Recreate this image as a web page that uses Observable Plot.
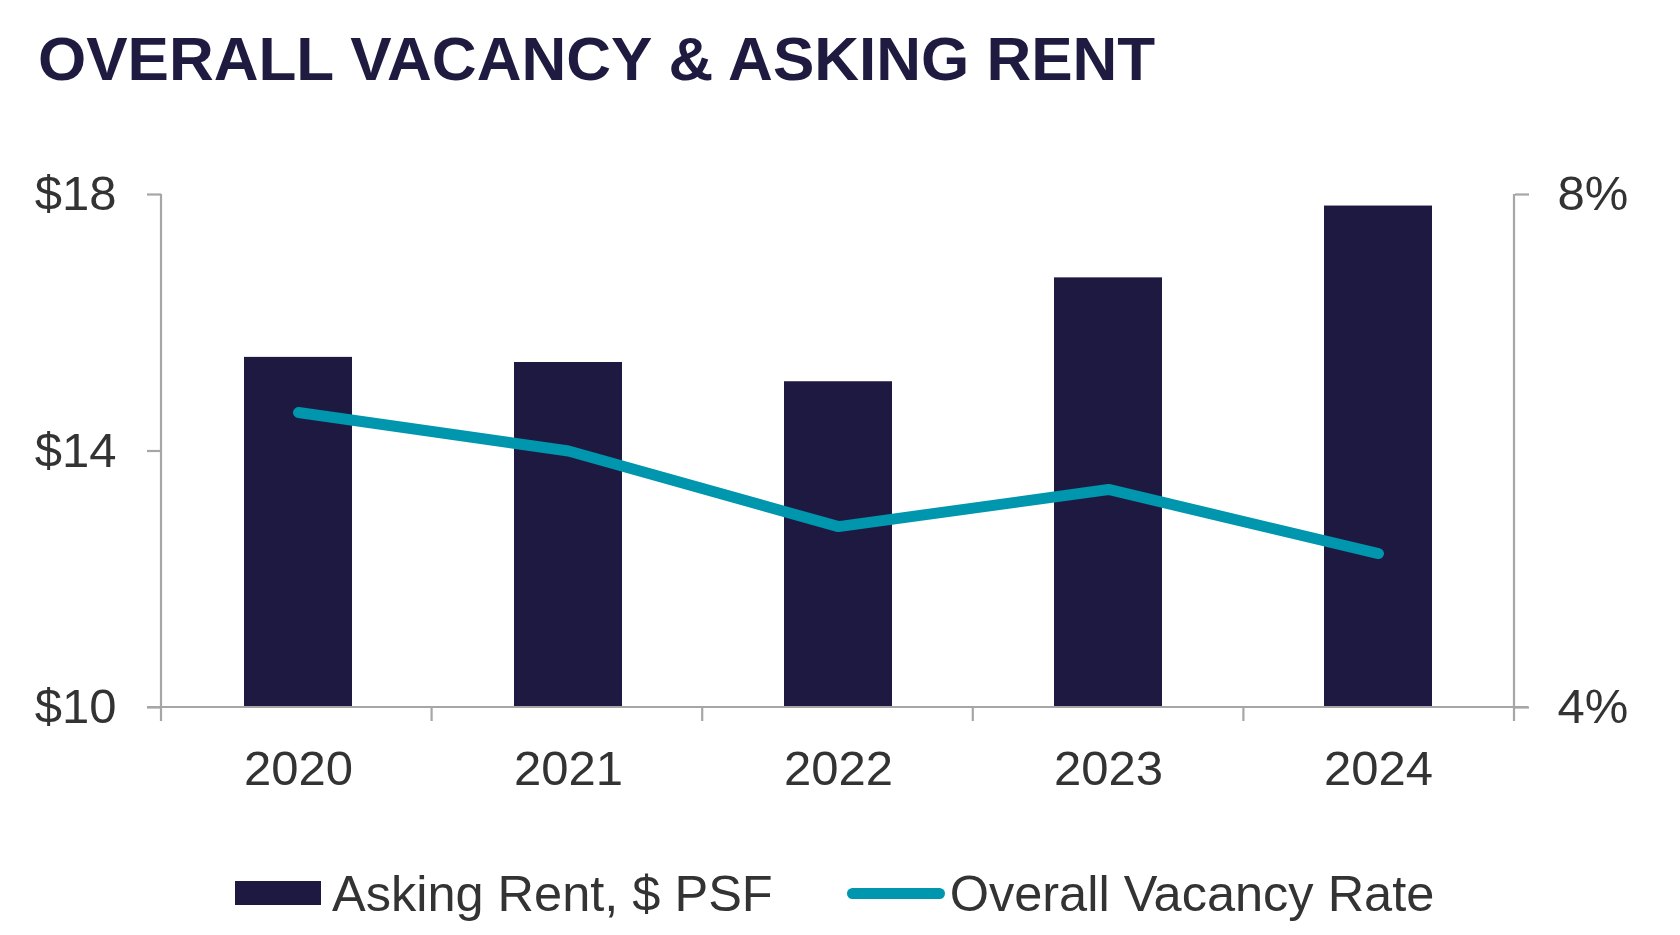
<!DOCTYPE html>
<html>
<head>
<meta charset="utf-8">
<script src="https://cdn.jsdelivr.net/npm/d3@7"></script>
<script src="https://cdn.jsdelivr.net/npm/@observablehq/plot@0.6"></script>
<style>
  html, body { margin: 0; padding: 0; background: #fff; width: 1680px; height: 935px; overflow: hidden; }
  body { position: relative; font-family: "Liberation Sans", Arial, sans-serif; }
  #title { position: absolute; left: 38px; top: 28px; font-size: 62px; line-height: 1; font-weight: bold; color: #1f1a3f; white-space: nowrap; }
  #chart { position: absolute; left: 0; top: 150px; }
  #legend { position: absolute; left: 0; top: 868px; height: 50px; display: flex; align-items: center; font-size: 50.5px; color: #333; white-space: nowrap; }
  .sw-bar { display: inline-block; margin-left: 235px; width: 86px; height: 24px; background: #1e1940; }
  .sw-line { display: inline-block; margin-left: 74px; width: 98px; height: 11px; border-radius: 6px; background: #0096ad; }
  .lt1 { margin-left: 11px; }
  .lt2 { margin-left: 5px; }
</style>
</head>
<body>
<div id="title">OVERALL VACANCY &amp; ASKING RENT</div>
<div id="chart"></div>
<div id="legend"><span class="sw-bar"></span><span class="lt1">Asking Rent, $ PSF</span><span class="sw-line"></span><span class="lt2">Overall Vacancy Rate</span></div>
<script>
const years = ["2020", "2021", "2022", "2023", "2024"];
const askingRent = [15.46, 15.38, 15.08, 16.70, 17.82];
const vacancyRate = [6.30, 6.00, 5.41, 5.70, 5.20];
const rentTicks = [10, 14, 18];
const vacancyTicks = [4, 8];

const rentDomain = [rentTicks[0], rentTicks[rentTicks.length - 1]];
const vacDomain = [vacancyTicks[0], vacancyTicks[vacancyTicks.length - 1]];
const toRent = v => rentDomain[0] + (v - vacDomain[0]) * (rentDomain[1] - rentDomain[0]) / (vacDomain[1] - vacDomain[0]);
const fromRent = r => vacDomain[0] + (r - rentDomain[0]) * (vacDomain[1] - vacDomain[0]) / (rentDomain[1] - rentDomain[0]);

const data = years.map((y, i) => ({ year: y, rent: askingRent[i], vac: vacancyRate[i] }));

const AXIS = "#a6a6a6";
const TEXT = "#333333";

const chart = Plot.plot({
  width: 1680,
  height: 650,
  marginLeft: 161,
  marginRight: 166,
  marginTop: 44,
  marginBottom: 93,
  style: { fontFamily: "'Liberation Sans', Arial, sans-serif", background: "transparent" },
  x: { domain: years, paddingInner: 0.6, paddingOuter: 0.3, align: 0.5 },
  y: { domain: rentDomain },
  marks: [
    Plot.barY(data, { x: "year", y1: rentDomain[0], y2: "rent", fill: "#1e1940" }),
    Plot.lineY(data, { x: "year", y: d => toRent(d.vac), stroke: "#0096ad", strokeWidth: 11, strokeLinecap: "round", strokeLinejoin: "miter" }),
    Plot.axisY({ ticks: rentTicks, tickFormat: d => "$" + d, tickSize: 14, tickPadding: 31, stroke: AXIS, strokeWidth: 2.2, strokeOpacity: 1, fill: TEXT, fontSize: 49, label: null }),
    Plot.axisY({ anchor: "right", ticks: vacancyTicks.map(toRent), tickFormat: d => Math.round(fromRent(d)) + "%", tickSize: 14, tickPadding: 29, stroke: AXIS, strokeWidth: 2.2, strokeOpacity: 1, fill: TEXT, fontSize: 49, label: null }),
    Plot.axisX({ tickSize: 0, tickPadding: 43, fill: TEXT, fontSize: 49, label: null })
  ]
});
document.getElementById("chart").appendChild(chart);

// axis lines and category boundary ticks, from the plot's own scales
const sx = chart.scale("x");
const sy = chart.scale("y");
const x0 = sx.range[0], x1 = sx.range[1];
const yBase = sy.apply(rentDomain[0]);
const yTop = sy.apply(rentDomain[1]);
const tick = 14;
const g = d3.select(chart).append("g").attr("stroke", AXIS).attr("stroke-width", 2.2);
g.append("line").attr("x1", x0 - tick).attr("x2", x1 + tick).attr("y1", yBase).attr("y2", yBase);
g.append("line").attr("x1", x0).attr("x2", x0).attr("y1", yTop).attr("y2", yBase + tick);
g.append("line").attr("x1", x1).attr("x2", x1).attr("y1", yTop).attr("y2", yBase + tick);
const step = (x1 - x0) / years.length;
d3.range(1, years.length).forEach(k => {
  const xx = x0 + k * step;
  g.append("line").attr("x1", xx).attr("x2", xx).attr("y1", yBase).attr("y2", yBase + tick);
});
</script>
</body>
</html>
